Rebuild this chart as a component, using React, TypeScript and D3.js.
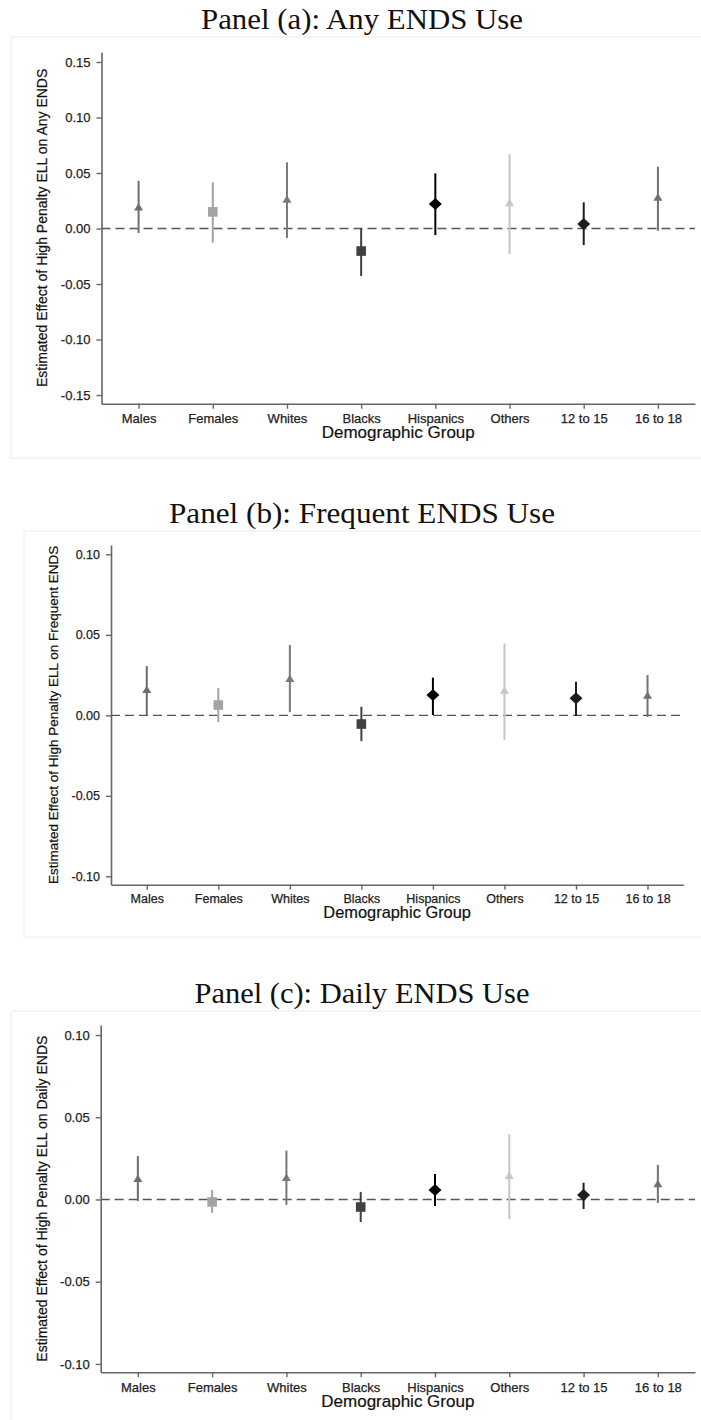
import * as d3 from "d3";
import { useEffect, useRef } from "react";

const categories = ["Males", "Females", "Whites", "Blacks", "Hispanics", "Others", "12 to 15", "16 to 18"];
const markerShapes = ["triangle", "square", "triangle", "square", "diamond", "triangle", "diamond", "triangle"];
const markerColors = ["#6e6e6e", "#a3a3a3", "#787878", "#404040", "#000000", "#c6c6c6", "#1e1e1e", "#717171"];

// panel (a): any ENDS use
const anyEst = [0.019, 0.015, 0.026, -0.0203, 0.022, 0.0227, 0.004, 0.0277];
const anyLo = [-0.004, -0.0128, -0.0086, -0.0428, -0.0059, -0.023, -0.0149, -0.002];
const anyHi = [0.043, 0.0416, 0.0596, 0.0, 0.0497, 0.067, 0.0236, 0.0557];
const anyTicks = [-0.15, -0.1, -0.05, 0, 0.05, 0.1, 0.15];

// panel (b): frequent ENDS use
const freqEst = [0.0157, 0.0064, 0.0225, -0.0054, 0.0126, 0.0153, 0.0106, 0.0122];
const freqLo = [0.0, -0.0042, 0.002, -0.016, 0.0002, -0.0153, -0.0004, -0.001];
const freqHi = [0.0306, 0.017, 0.0437, 0.0053, 0.0234, 0.0447, 0.0209, 0.025];
const freqTicks = [-0.1, -0.05, 0, 0.05, 0.1];

// panel (c): daily ENDS use
const dailyEst = [0.0125, -0.0015, 0.0131, -0.0046, 0.0058, 0.0143, 0.0027, 0.0092];
const dailyLo = [-0.001, -0.0082, -0.0033, -0.0137, -0.004, -0.0119, -0.0058, -0.0021];
const dailyHi = [0.0264, 0.0058, 0.0297, 0.0046, 0.0155, 0.0396, 0.0102, 0.021];
const dailyTicks = [-0.1, -0.05, 0, 0.05, 0.1];

const panels = [
  {
    title: "Panel (a): Any ENDS Use", titleY: 29, titleLen: 322,
    yTitle: "Estimated Effect of High Penalty ELL on Any ENDS", yTitleX: 42, yTitleSize: 14,
    frame: { x: 11, y: 37, w: 720, h: 421 },
    x0: 101.5, x1: 695, top: 52, bottom: 403.7, domain: [-0.1578, 0.159],
    est: anyEst, lo: anyLo, hi: anyHi, ticks: anyTicks,
    font: 13, xTitleY: 432.3, xTitleSize: 17,
  },
  {
    title: "Panel (b): Frequent ENDS Use", titleY: 522.7, titleLen: 386,
    yTitle: "Estimated Effect of High Penalty ELL on Frequent ENDS", yTitleX: 53, yTitleSize: 13.5,
    frame: { x: 24, y: 531, w: 720, h: 406 },
    x0: 111, x1: 683.3, top: 545, bottom: 884.7, domain: [-0.1052, 0.1058],
    est: freqEst, lo: freqLo, hi: freqHi, ticks: freqTicks,
    font: 12.5, xTitleY: 912.7, xTitleSize: 16.4,
  },
  {
    title: "Panel (c): Daily ENDS Use", titleY: 1002.7, titleLen: 335,
    yTitle: "Estimated Effect of High Penalty ELL on Daily ENDS", yTitleX: 42, yTitleSize: 14,
    frame: { x: 11, y: 1011, w: 720, h: 440 },
    x0: 100.7, x1: 695, top: 1025, bottom: 1372.3, domain: [-0.1051, 0.1061],
    est: dailyEst, lo: dailyLo, hi: dailyHi, ticks: dailyTicks,
    font: 13, xTitleY: 1401, xTitleSize: 17,
  },
];

const fmt = (v) => d3.format(".2f")(v).replace("\u2212", "-");

function markerPath(shape) {
  if (shape === "triangle") return "M0,-4.5L4.5,3L-4.5,3Z";
  if (shape === "square") return "M-4.8,-4.8H4.8V4.8H-4.8Z";
  return "M0,-6L6.5,0L0,6L-6.5,0Z";
}

function Panel({ p }) {
  const gx = useRef(null);
  const gy = useRef(null);

  const x = d3.scalePoint().domain(categories).range([p.x0, p.x1]).padding(0.5);
  const y = d3.scaleLinear().domain(p.domain).range([p.bottom, p.top]);

  useEffect(() => {
    const ax = d3.select(gx.current);
    ax.call(d3.axisBottom(x).tickSize(5).tickSizeOuter(0).tickPadding(p.font === 13 ? 5 : 4));
    const ay = d3.select(gy.current);
    ay.call(d3.axisLeft(y).tickValues(p.ticks).tickFormat(fmt).tickSize(5).tickSizeOuter(0).tickPadding(6));
    [ax, ay].forEach((g) => {
      g.select(".domain").attr("stroke", "#666").attr("stroke-width", 1.6);
      g.selectAll(".tick line").attr("stroke", "#666").attr("stroke-width", 1.4);
      g.selectAll(".tick text")
        .attr("fill", "#222")
        .attr("stroke", "#222")
        .attr("stroke-width", 0.25)
        .attr("font-size", p.font)
        .attr("font-family", "Liberation Sans, Arial, sans-serif");
    });
  }, []);

  const midX = (p.x0 + p.x1) / 2;
  const midY = (p.top + p.bottom) / 2;

  return (
    <g>
      <rect x={p.frame.x} y={p.frame.y} width={p.frame.w} height={p.frame.h} fill="none" stroke="#ebebeb" />
      <text x={362} y={p.titleY} textAnchor="middle" fontFamily="Liberation Serif, serif" fontSize={30} fill="#111"
        textLength={p.titleLen} lengthAdjust="spacingAndGlyphs">{p.title}</text>
      <line x1={p.x0} x2={p.x1} y1={y(0)} y2={y(0)} stroke="#555" strokeWidth={1.4} strokeDasharray="9,5" />
      {categories.map((c, i) => (
        <g key={c}>
          <line x1={x(c)} x2={x(c)} y1={y(p.lo[i])} y2={y(p.hi[i])} stroke={markerColors[i]} strokeWidth={2} />
          <path d={markerPath(markerShapes[i])} transform={`translate(${x(c)},${y(p.est[i])})`} fill={markerColors[i]} />
        </g>
      ))}
      <g ref={gx} transform={`translate(0,${p.bottom})`} />
      <g ref={gy} transform={`translate(${p.x0},0)`} />
      <text x={midX} y={p.xTitleY} dy="0.35em" textAnchor="middle" fontFamily="Liberation Sans, Arial, sans-serif"
        fontSize={p.xTitleSize} fill="#111" stroke="#111" strokeWidth={0.2}>Demographic Group</text>
      <text transform={`translate(${p.yTitleX},${midY}) rotate(-90)`} dy="0.35em" textAnchor="middle"
        fontFamily="Liberation Sans, Arial, sans-serif" fontSize={p.yTitleSize} fill="#111" stroke="#111" strokeWidth={0.2}>{p.yTitle}</text>
    </g>
  );
}

export default function App() {
  return (
    <svg width={701} height={1420} style={{ position: "absolute", left: 0, top: 0, background: "#fff" }}>
      {panels.map((p) => <Panel key={p.title} p={p} />)}
    </svg>
  );
}
